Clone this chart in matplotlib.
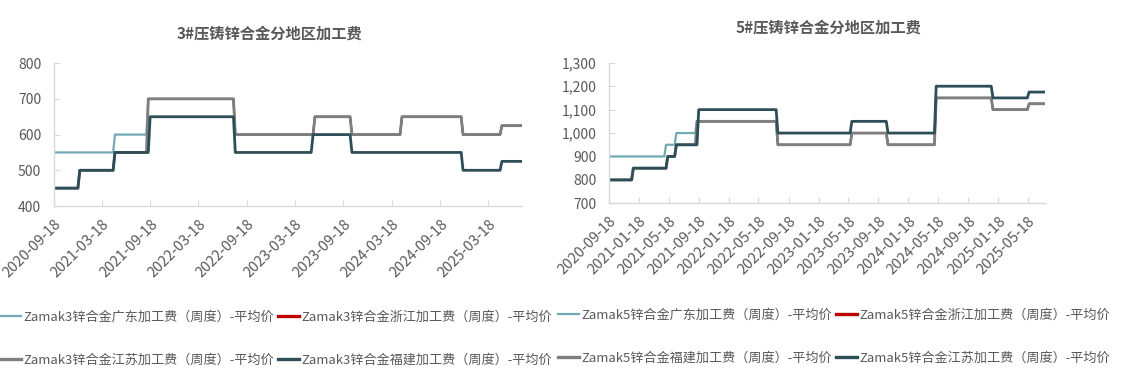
import matplotlib
matplotlib.use("Agg")
import matplotlib.pyplot as plt
import matplotlib.ticker as mticker
import pandas as pd

plt.rcParams['font.family'] = ['Noto Sans CJK SC', 'DejaVu Sans']

# ---------------- data ----------------
start_date = "2020-09-18"
end_date = "2025-07-25"

# Zamak3 (left chart) step changes: (change date, level)
z3_gd_dates = ["2020-09-18", "2021-05-07", "2021-09-10", "2022-07-30", "2023-05-28", "2023-10-16", "2024-04-26", "2024-12-10", "2025-05-06"]
z3_gd_vals = [550, 600, 700, 600, 650, 600, 650, 600, 625]
z3_zj_dates = ["2021-09-10", "2022-07-30", "2023-05-28", "2023-10-16", "2024-04-26", "2024-12-10", "2025-05-06"]
z3_zj_vals = [700, 600, 650, 600, 650, 600, 625]
z3_js_dates = ["2020-09-18", "2020-12-25", "2021-05-07", "2021-09-10", "2022-07-30", "2023-05-28", "2023-10-16", "2024-04-26", "2024-12-10", "2025-05-06"]
z3_js_vals = [450, 500, 550, 700, 600, 650, 600, 650, 600, 625]
z3_fj_dates = ["2020-09-18", "2020-12-25", "2021-05-07", "2021-09-14", "2022-08-03", "2023-05-23", "2023-10-16", "2024-12-10", "2025-05-06"]
z3_fj_vals = [450, 500, 550, 650, 550, 600, 550, 500, 525]

# Zamak5 (right chart)
z5_gd_dates = ["2020-09-18", "2021-05-06", "2021-06-12", "2021-09-10", "2022-08-05", "2023-05-30", "2023-10-26", "2024-05-10", "2024-12-23", "2025-05-17"]
z5_gd_vals = [900, 950, 1000, 1050, 950, 1000, 950, 1150, 1100, 1125]
z5_zj_dates = ["2021-09-10", "2022-08-05", "2023-05-30", "2023-10-26", "2024-05-10", "2024-12-23", "2025-05-17"]
z5_zj_vals = [1050, 950, 1000, 950, 1150, 1100, 1125]
z5_fj_dates = ["2020-09-18", "2020-12-24", "2021-05-09", "2021-06-12", "2021-09-10", "2022-08-05", "2023-05-30", "2023-10-26", "2024-05-10", "2024-12-23", "2025-05-17"]
z5_fj_vals = [800, 850, 900, 950, 1050, 950, 1000, 950, 1150, 1100, 1125]
z5_js_dates = ["2020-09-18", "2020-12-24", "2021-05-09", "2021-06-12", "2021-09-14", "2022-08-05", "2023-05-30", "2023-10-26", "2024-05-10", "2024-12-23", "2025-05-17"]
z5_js_vals = [800, 850, 900, 950, 1100, 1000, 1050, 1000, 1200, 1150, 1175]

left_ticks = ["2020-09-18", "2021-03-18", "2021-09-18", "2022-03-18", "2022-09-18",
              "2023-03-18", "2023-09-18", "2024-03-18", "2024-09-18", "2025-03-18"]
right_ticks = ["2020-09-18", "2021-01-18", "2021-05-18", "2021-09-18", "2022-01-18",
               "2022-05-18", "2022-09-18", "2023-01-18", "2023-05-18", "2023-09-18",
               "2024-01-18", "2024-05-18", "2024-09-18", "2025-01-18", "2025-05-18"]

left_title = "3#压铸锌合金分地区加工费"
right_title = "5#压铸锌合金分地区加工费"
z3_labels = ["Zamak3锌合金广东加工费（周度）-平均价", "Zamak3锌合金浙江加工费（周度）-平均价",
             "Zamak3锌合金江苏加工费（周度）-平均价", "Zamak3锌合金福建加工费（周度）-平均价"]
z5_labels = ["Zamak5锌合金广东加工费（周度）-平均价", "Zamak5锌合金浙江加工费（周度）-平均价",
             "Zamak5锌合金福建加工费（周度）-平均价", "Zamak5锌合金江苏加工费（周度）-平均价"]

weeks = pd.date_range(start_date, end_date, freq="7D")


def weekly(dates, vals):
    s = pd.Series(vals, index=pd.to_datetime(dates))
    return s.reindex(weeks, method="ffill").values


# ---------------- style ----------------
C_TEAL = "#72A9B2"
C_RED = "#C00000"
C_GRAY = "#7F7F7F"
C_DARK = "#2D4E56"
C_TXT = "#595959"
C_AX = "#D9D9D9"

fig = plt.figure(figsize=(11.22, 3.84), dpi=100)
axL = fig.add_axes([0.048, 0.4635, 0.4175, 0.372])
axR = fig.add_axes([0.543, 0.4705, 0.388, 0.366])


def style(ax, ticks, ylim, comma=False):
    for s in ["top", "right"]:
        ax.spines[s].set_visible(False)
    for s in ["left", "bottom"]:
        ax.spines[s].set_color(C_AX)
        ax.spines[s].set_linewidth(1.0)
    ax.set_xlim(pd.Timestamp(start_date), pd.Timestamp(end_date))
    ax.set_ylim(*ylim)
    ax.yaxis.set_major_locator(mticker.MultipleLocator(100))
    if comma:
        ax.yaxis.set_major_formatter(mticker.FuncFormatter(lambda v, p: f"{int(v):,}"))
    ax.set_xticks(pd.to_datetime(ticks))
    ax.set_xticklabels(ticks, rotation=45, ha="right", rotation_mode="anchor")
    ax.tick_params(axis="both", direction="in", length=4, color=C_AX, labelcolor=C_TXT)
    ax.tick_params(axis="y", labelsize=10, pad=9)
    ax.tick_params(axis="x", labelsize=10.5, pad=8)


lines = []
lines.append(axL.plot(weeks, weekly(z3_gd_dates, z3_gd_vals), color=C_TEAL, lw=1.6)[0])
lines.append(axL.plot(weeks, weekly(z3_zj_dates, z3_zj_vals), color=C_RED, lw=1.4)[0])
lines.append(axL.plot(weeks, weekly(z3_js_dates, z3_js_vals), color=C_GRAY, lw=2.0)[0])
lines.append(axL.plot(weeks, weekly(z3_fj_dates, z3_fj_vals), color=C_DARK, lw=2.0)[0])
style(axL, left_ticks, (400, 800))
axL.set_title(left_title, fontsize=11, fontweight="bold", color=C_TXT, pad=18, x=0.46)

linesR = []
linesR.append(axR.plot(weeks, weekly(z5_gd_dates, z5_gd_vals), color=C_TEAL, lw=1.6)[0])
linesR.append(axR.plot(weeks, weekly(z5_zj_dates, z5_zj_vals), color=C_RED, lw=1.4)[0])
linesR.append(axR.plot(weeks, weekly(z5_fj_dates, z5_fj_vals), color=C_GRAY, lw=2.0)[0])
linesR.append(axR.plot(weeks, weekly(z5_js_dates, z5_js_vals), color=C_DARK, lw=2.0)[0])
style(axR, right_ticks, (700, 1300), comma=True)
axR.set_title(right_title, fontsize=11, fontweight="bold", color=C_TXT, pad=22, x=0.503)

# legends (row-major order -> column-major for ncol=2)
legkw = dict(ncol=2, frameon=False, fontsize=9.45, handlelength=1.6, handletextpad=0.15,
             columnspacing=0.35, labelspacing=2.25, borderpad=0, borderaxespad=0,
             labelcolor=C_TXT, loc="upper left")
legL = fig.legend([lines[0], lines[2], lines[1], lines[3]],
                  [z3_labels[0], z3_labels[2], z3_labels[1], z3_labels[3]],
                  bbox_to_anchor=(0.0, 1 - 311 / 384), **legkw)
legR = fig.legend([linesR[0], linesR[2], linesR[1], linesR[3]],
                  [z5_labels[0], z5_labels[2], z5_labels[1], z5_labels[3]],
                  bbox_to_anchor=(558 / 1122, 1 - 309 / 384), **legkw)
for leg in (legL, legR):
    for ln in leg.get_lines():
        if ln.get_color() != C_TEAL:
            ln.set_linewidth(2.4)

fig.savefig("out.png", dpi=100, facecolor="white")
